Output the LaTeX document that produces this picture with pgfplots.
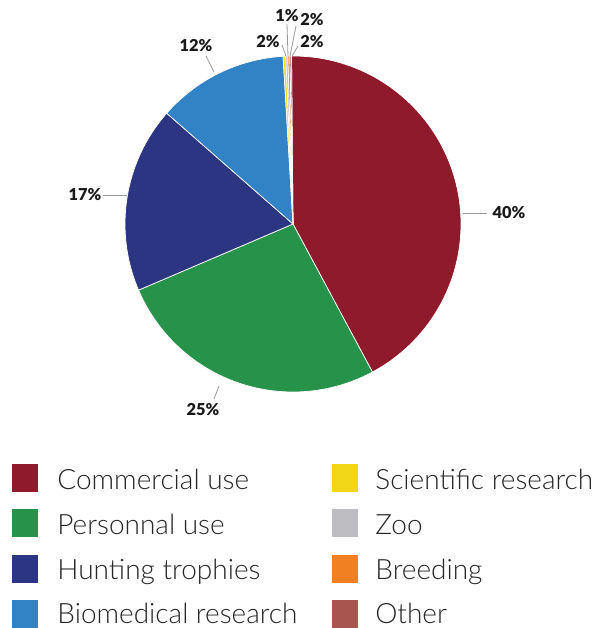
\documentclass[border=0pt]{standalone}
\usepackage{pgfplots}
\pgfplotsset{compat=1.18}
\usepackage{pgfplotstable}
\usepackage{fontspec}
\setmainfont{Lato}
\IfFontExistsTF{Lato Light}{\newfontfamily\legfont{Lato Light}}{\newfontfamily\legfont{Lato}}
\IfFontExistsTF{Lato Black}{\newfontfamily\labfont{Lato Black}}{\newfontfamily\labfont{Lato Bold}}
\definecolor{ccom}{HTML}{8E1A2C}
\definecolor{cper}{HTML}{26924A}
\definecolor{chun}{HTML}{2C3582}
\definecolor{cbio}{HTML}{3282C6}
\definecolor{csci}{HTML}{F2D718}
\definecolor{czoo}{HTML}{BDBDC2}
\definecolor{cbre}{HTML}{F08022}
\definecolor{coth}{HTML}{A85550}
\definecolor{leader}{HTML}{9A9A9A}
\pgfplotstableread{
name pct col
Commercial 42.3 ccom
Personnal 26.4 cper
Hunting 17.9 chun
Biomedical 12.6 cbio
Scientific 0.25 csci
Zoo 0.2 czoo
Breeding 0.2 cbre
Other 0.15 coth
}\piedata
\begin{document}
\begin{tikzpicture}
\begin{axis}[
  scale only axis, width=297pt, height=314pt,
  xmin=0, xmax=594, ymin=0, ymax=628, y dir=reverse,
  hide axis, clip=false]
\addplot[draw=none] coordinates {(0,0) (594,628)};
\def\cum{0}
\pgfplotsforeachungrouped \i in {0,...,7}{%
  \pgfplotstablegetelem{\i}{pct}\of\piedata \let\p\pgfplotsretval
  \pgfplotstablegetelem{\i}{col}\of\piedata \let\slicecol\pgfplotsretval
  \pgfmathsetmacro\a{90.5-\cum*3.6}%
  \pgfmathsetmacro\b{90.5-(\cum+\p)*3.6}%
  \edef\temp{\noexpand\filldraw[fill=\slicecol, draw=white, line width=0.35pt] (axis cs:293,224) -- ++(\a:84pt) arc[start angle=\a, end angle=\b, radius=84pt] -- cycle;}%
  \temp
  \pgfmathsetmacro\cum{\cum+\p}%
}
% leader lines
\draw[leader, line width=0.4pt] (axis cs:463,213) -- (axis cs:487,213);
\draw[leader, line width=0.4pt] (axis cs:127,195) -- (axis cs:103,195);
\draw[leader, line width=0.4pt] (axis cs:219,386) -- (axis cs:214,399);
\draw[leader, line width=0.4pt] (axis cs:214,72) -- (axis cs:206,56);
\draw[leader, line width=0.4pt] (axis cs:286,56) -- (axis cs:282,45);
\draw[leader, line width=0.4pt] (axis cs:288,56) -- (axis cs:287,24);
\draw[leader, line width=0.4pt] (axis cs:290,56) -- (axis cs:296,26);
\draw[leader, line width=0.4pt] (axis cs:292,56) -- (axis cs:298,46);
% value labels
\tikzset{lab/.style={font=\labfont\fontsize{8.2}{9}\selectfont, inner sep=0pt, text=black!90}}
\node[lab] at (axis cs:509,213) {40\%};
\node[lab] at (axis cs:203,410) {25\%};
\node[lab] at (axis cs:85,195) {17\%};
\node[lab] at (axis cs:196,46) {12\%};
\node[lab] at (axis cs:268,42) {2\%};
\node[lab] at (axis cs:287,16) {1\%};
\node[lab] at (axis cs:312,20) {2\%};
\node[lab] at (axis cs:312,42) {2\%};
% legend
\tikzset{leg/.style={font=\legfont\fontsize{14}{16}\selectfont, inner sep=0pt, anchor=base west, text=black!85}}
\fill[ccom] (axis cs:12,464) rectangle (axis cs:38,492);
\fill[cper] (axis cs:12,509) rectangle (axis cs:38,537);
\fill[chun] (axis cs:12,555) rectangle (axis cs:38,583);
\fill[cbio] (axis cs:12,600) rectangle (axis cs:38,628);
\fill[csci] (axis cs:332,464) rectangle (axis cs:358,492);
\fill[czoo] (axis cs:332,509) rectangle (axis cs:358,537);
\fill[cbre] (axis cs:332,555) rectangle (axis cs:358,583);
\fill[coth] (axis cs:332,600) rectangle (axis cs:358,628);
\node[leg] at (axis cs:57,489) {Commercial use};
\node[leg] at (axis cs:57,534) {Personnal use};
\node[leg] at (axis cs:57,579) {Hunting trophies};
\node[leg] at (axis cs:57,623) {Biomedical research};
\node[leg] at (axis cs:375,489) {Scientific research};
\node[leg] at (axis cs:375,534) {Zoo};
\node[leg] at (axis cs:375,579) {Breeding};
\node[leg] at (axis cs:375,623) {Other};
\end{axis}
\end{tikzpicture}
\end{document}
